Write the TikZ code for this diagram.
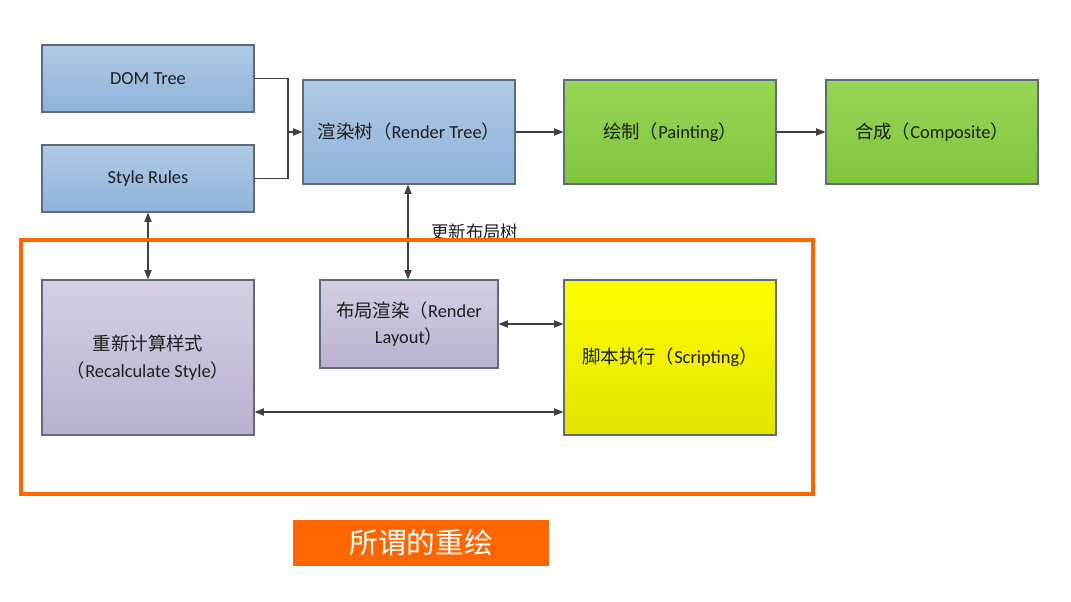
\documentclass[tikz,border=0pt]{standalone}
\usepackage{fontspec}
\setmainfont{Carlito}
\newfontfamily\cjk{Noto Sans CJK SC}
\usetikzlibrary{arrows.meta,shadings}
\definecolor{edge}{HTML}{5F6B78}
\definecolor{linec}{HTML}{404040}
\definecolor{txt}{HTML}{1E1E1E}
\definecolor{blueT}{HTML}{B0CAE6}
\definecolor{blueB}{HTML}{8EB3DA}
\definecolor{greenT}{HTML}{98D656}
\definecolor{greenB}{HTML}{80C43E}
\definecolor{purpT}{HTML}{D5CFE4}
\definecolor{purpB}{HTML}{BAB1D0}
\definecolor{yelT}{HTML}{FFFF00}
\definecolor{yelB}{HTML}{E3E300}
\definecolor{orng}{HTML}{FF6600}
\tikzset{
  box/.style={draw=edge, line width=0.9pt, inner sep=0pt, text=txt, align=center,
    font=\fontsize{13.8pt}{18pt}\selectfont},
  bluebox/.style={box, top color=blueT, bottom color=blueB},
  greenbox/.style={box, top color=greenT, bottom color=greenB},
  purpbox/.style={box, top color=purpT, bottom color=purpB},
  yelbox/.style={box, top color=yelT, bottom color=yelB},
  wide/.style={minimum width=159pt},
  conn/.style={draw=linec, line width=0.8pt, -{Triangle[length=7pt,width=5.5pt]}},
  dconn/.style={draw=linec, line width=0.8pt, {Triangle[length=7pt,width=5.5pt]}-{Triangle[length=7pt,width=5.5pt]}},
}
\begin{document}
\begin{tikzpicture}[x=0.75pt,y=-0.75pt]
\useasboundingbox (0,0) rectangle (1071,602);
\node[bluebox, wide, minimum height=50.25pt] (dom) at (148,78.5) {DOM Tree};
\node[bluebox, wide, minimum height=50.25pt] (style) at (148,178.5) {Style Rules};
\node[bluebox, wide, minimum height=78pt] (render) at (409,132) {{\cjk 渲染树（}Render Tree{\cjk ）}};
\node[greenbox, wide, minimum height=78pt] (paint) at (670,132) {{\cjk 绘制（}Painting{\cjk ）}};
\node[greenbox, wide, minimum height=78pt] (comp) at (932,132) {{\cjk 合成（}Composite{\cjk ）}};
\node[purpbox, wide, minimum height=116.25pt] (recalc) at (148,357.5) {{\cjk 重新计算样式}\\[2pt]{\cjk （}Recalculate Style{\cjk ）}};
\node[purpbox, minimum width=133.5pt, minimum height=66pt] (layout) at (409,324) {{\cjk 布局渲染（}Render\\[1pt]Layout{\cjk ）}};
\node[yelbox, wide, minimum height=116.25pt] (script) at (670,357.5) {{\cjk 脚本执行（}Scripting{\cjk ）}};
\coordinate (join) at (288,132);
\draw[draw=linec, line width=0.8pt] (dom.east) -| (join);
\draw[draw=linec, line width=0.8pt] (style.east) -| (join);
\draw[conn] (join) -- (render.west);
\draw[conn] (render.east) -- (paint.west);
\draw[conn] (paint.east) -- (comp.west);
\draw[dconn] (style.south) -- (recalc.north);
\draw[dconn] (render.south -| 408,0) -- (layout.north -| 408,0) node[pos=0.5, right=14pt, text=txt, font=\cjk\fontsize{13pt}{15pt}\selectfont] (upd) {更新布局树};
\draw[dconn] (layout.east) -- (script.west |- layout.east);
\draw[dconn] (recalc.east |- 0,412) -- (script.west |- 0,412);
\node[draw=orng, line width=3pt, minimum width=594pt, minimum height=190.5pt, inner sep=0pt] (frame) at (417,367) {};
\node[fill=orng, minimum width=192pt, minimum height=34.5pt, inner sep=0pt, text=white, font=\cjk\fontsize{21.5pt}{24pt}\selectfont] (lbl) at (421,543) {所谓的重绘};
\end{tikzpicture}
\end{document}
